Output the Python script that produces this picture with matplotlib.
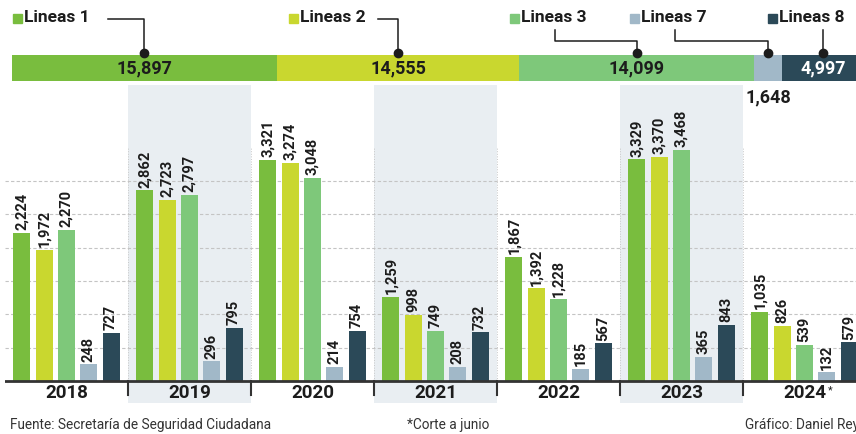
import matplotlib
matplotlib.use("Agg")
import matplotlib.pyplot as plt
from matplotlib.lines import Line2D
from matplotlib.patches import Rectangle
import numpy as np

plt.rcParams['font.family'] = ['Roboto', 'DejaVu Sans']

# data
years = ['2018', '2019', '2020', '2021', '2022', '2023', '2024']
year_marks = ['', '', '', '', '', '', '*']
series_names = ['Lineas 1', 'Lineas 2', 'Lineas 3', 'Lineas 7', 'Lineas 8']
lineas_1 = [2224, 2862, 3321, 1259, 1867, 3329, 1035]
lineas_2 = [1972, 2723, 3274, 998, 1392, 3370, 826]
lineas_3 = [2270, 2797, 3048, 749, 1228, 3468, 539]
lineas_7 = [248, 296, 214, 208, 185, 365, 132]
lineas_8 = [727, 795, 754, 732, 567, 843, 579]
series = [lineas_1, lineas_2, lineas_3, lineas_7, lineas_8]
totals = [sum(s) for s in series]

colors = ['#79bd3e', '#c9d72f', '#7ec87a', '#a1b8c8', '#2b4958']
shade = '#e9eef2'
ink = '#1c1c1c'

W, H = 856, 434
fig = plt.figure(figsize=(W / 100, H / 100), dpi=100)


def fx(px):
    return px / W


def fy(py):
    return 1 - py / H


# ---- top stacked bar with totals ----
ax_top = fig.add_axes([fx(12), fy(81), fx(853), 26 / H])
left = 0
centers = []
for tot, col in zip(totals, colors):
    ax_top.barh(0, tot, left=left, height=1, color=col, edgecolor='none')
    centers.append(left + tot / 2)
    left += tot
ax_top.set_xlim(0, left)
ax_top.set_ylim(-0.5, 0.5)
ax_top.axis('off')

label_cols = [ink, ink, ink, ink, 'white']
for i, (c, tot) in enumerate(zip(centers, totals)):
    txt = f'{tot:,}'
    if i == 3:
        ax_top.text(c, -1.15, txt, ha='center', va='center', fontsize=13,
                    fontweight='bold', color=ink, clip_on=False)
    else:
        ax_top.text(c, 0, txt, ha='center', va='center', fontsize=13,
                    fontweight='bold', color=label_cols[i])

# legend and connectors (pixel layout)
legend_x = [13, 289, 510, 630, 768]
for name, col, lx in zip(series_names, colors, legend_x):
    fig.patches.append(Rectangle((fx(lx), fy(23)), fx(9), 9 / H, color=col,
                                 transform=fig.transFigure))
    fig.text(fx(lx + 11), fy(18), name, fontsize=12.5, fontweight='bold',
             color=ink, va='center', ha='left')

dot_y = fy(53)
# connector paths: (start x px, start y px, elbow y px)
connectors = [(108, 19, 19), (378, 19, 19), (555, 30, 41), (675, 30, 41), (None, 30, 30)]
for (sx, sy, ey), c in zip(connectors, centers):
    cx_pix = ax_top.transData.transform((c, 0))[0]
    cx = cx_pix / fig.dpi / fig.get_figwidth()
    if sx is None:
        xs, ys = [cx, cx], [fy(sy), dot_y]
    elif sy == ey:
        xs, ys = [fx(sx), cx, cx], [fy(sy), fy(sy), dot_y]
    else:
        xs, ys = [fx(sx), fx(sx), cx, cx], [fy(sy), fy(ey), fy(ey), dot_y]
    fig.lines.append(Line2D(xs, ys, color=ink, lw=1.1, transform=fig.transFigure))
    fig.lines.append(Line2D([cx], [dot_y], marker='o', ms=6, color=ink,
                            transform=fig.transFigure))

# ---- grouped bars ----
px_per_unit = 0.0666
ax = fig.add_axes([fx(5), fy(403), fx(861), 318 / H])
ax.set_xlim(-0.5, len(years) - 0.5)
ax.set_ylim(-22 / px_per_unit, (381 - 85) / px_per_unit)
ax.axis('off')

for i in range(1, len(years), 2):
    ax.axvspan(i - 0.5, i + 0.5, color=shade, zorder=0, lw=0)

for g in range(500, 3001, 500):
    ax.axhline(g, color='#c4c4c4', lw=0.8, dashes=(3, 2), zorder=1)
for b in np.arange(0.5, len(years) - 0.5, 1):
    ax.plot([b, b], [0, 3500], color='#c8c8c8', lw=0.7, ls=':', zorder=1)

x = np.arange(len(years))
pitch = 0.181
width = 0.138
for k, (vals, col) in enumerate(zip(series, colors)):
    xs = x + (k - 2) * pitch
    ax.bar(xs, vals, width=width, color=col, zorder=3)
    for xi, v in zip(xs, vals):
        ax.text(xi, v + 40, f'{v:,}', rotation=90, ha='center', va='bottom',
                fontsize=10.5, fontweight='bold', color=ink, zorder=4)

ax.axhline(0, color='#333333', lw=2, zorder=5)
for b in np.arange(0.5, len(years) - 0.5, 1):
    ax.plot([b, b], [0, -210], color='#333333', lw=1.5, zorder=5)
for xi, yr, mk in zip(x, years, year_marks):
    t = ax.text(xi, -175, yr, ha='center', va='center', fontsize=13.5,
                fontweight='bold', color=ink, zorder=6)
    if mk:
        ax.annotate(mk, xy=(1, 1), xycoords=t, xytext=(1, -1),
                    textcoords='offset points', fontsize=8, color=ink,
                    ha='left', va='top')

# ---- footer ----
fig.text(fx(10), fy(425), 'Fuente: Secretaría de Seguridad Ciudadana',
         fontsize=9.8, color='#333333', va='center')
fig.text(fx(407), fy(425), '*Corte a junio', fontsize=9.8, color='#333333',
         va='center')
fig.text(fx(745), fy(425), 'Gráfico: Daniel Reyes', fontsize=9.8,
         color='#333333', va='center')

fig.savefig('out.png', dpi=100)
